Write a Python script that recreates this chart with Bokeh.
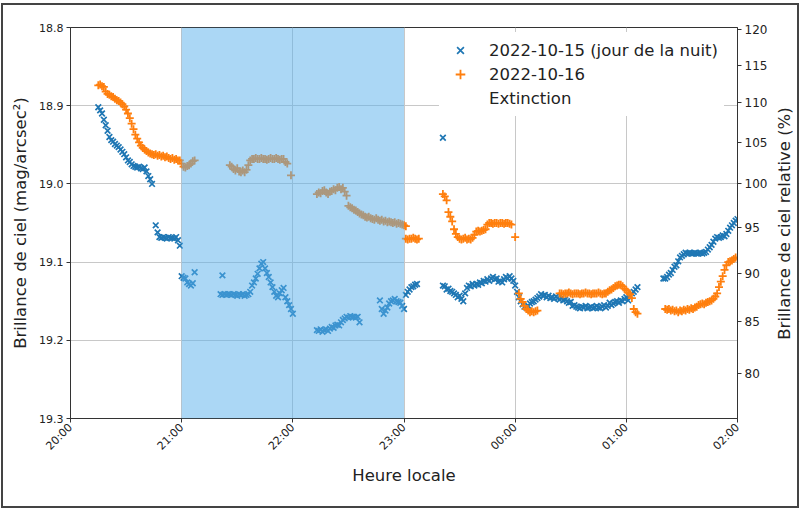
import math
from bokeh.plotting import figure
from bokeh.models import (Range1d, LinearAxis, FixedTicker, CustomJSTickFormatter,
                          BoxAnnotation, Legend, LegendItem, ColumnDataSource, Label)
from bokeh.embed import file_html
from bokeh.resources import INLINE

# ---------------- data (time = minutes after 20:00 local) ----------------
# 2022-10-15 (jour de la nuit)  -- sky brightness, mag/arcsec^2
b1_t = [15,16,17,18,19,20,21,22,23,24,25,26,27,28,29,30,31,32,33,34,35,36,37,38,39,40,41,42,43,44]
b1_m = [18.902,18.906,18.910,18.918,18.925,18.932,18.940,18.944,18.946,18.949,18.951,18.953,18.956,18.959,18.962,
        18.966,18.970,18.972,18.975,18.977,18.978,18.979,18.978,18.980,18.981,18.979,18.984,18.990,18.994,19.000]
b2_t = [46,47,48,49,50,51,52,53,54,55,56,57,58,59]
b2_m = [19.053,19.062,19.068,19.069,19.068,19.069,19.070,19.068,19.069,19.069,19.070,19.068,19.072,19.079]
b3_t = [60,61,62,63,64,65,66,67]
b3_m = [19.118,19.120,19.121,19.126,19.128,19.130,19.127,19.113]
b4_t = [81,82,83,84,85,86,87,88,89,90,91,92,93,94,95,96,97,98,99,100,101,102,103,104,105,106,107,108,109,110,
        111,112,113,114,115,116,117,118,119,120,82]
b4_m = [19.141,19.142,19.141,19.142,19.141,19.141,19.142,19.141,19.142,19.143,19.141,19.142,19.141,19.143,19.142,
        19.141,19.138,19.130,19.126,19.121,19.115,19.108,19.102,19.100,19.108,19.114,19.119,19.126,19.132,19.138,
        19.143,19.145,19.140,19.136,19.133,19.145,19.150,19.155,19.160,19.166,19.117]
b5_t = [133,134,135,136,137,138,139,140,141,142,143,144,145,146,147,148,149,150,151,152,153,154,155,156]
b5_m = [19.187,19.188,19.186,19.189,19.187,19.186,19.188,19.185,19.183,19.184,19.181,19.180,19.181,19.177,19.174,
        19.172,19.170,19.171,19.169,19.170,19.170,19.171,19.170,19.177]
b6_t = [167,168,169,170,171,172,173,174,175,176,177,178,179,180,181,182,183,184,185,186,187,201]
b6_m = [19.149,19.160,19.166,19.162,19.158,19.153,19.150,19.149,19.147,19.150,19.151,19.152,19.156,19.160,19.142,
        19.138,19.135,19.132,19.131,19.129,19.128,18.941]
b7_t = [201,202,203,204,205,206,207,208,209,210,211,212,213,214,215,216,217,218,219,220,
        221,222,223,224,225,226,227,228,229,230,231,232,233,234,235,236,237,238,239,240,
        241,242,243,244,245,246,247,248,249,250,251,252,253,254,255,256,257,258,259,260,
        261,262,263,264,265,266,267,268,269,270,271,272,273,274,275,276,277,278,279,280,
        281,282,283,284,285,286,287,288,289,290,291,292,293,294,295,296,297,298,299,300,
        301,302,303,304,305,306]
b7_m = [19.130,19.131,19.135,19.134,19.137,19.138,19.140,19.142,19.145,19.143,19.147,19.150,19.140,19.133,19.130,
        19.131,19.128,19.130,19.128,19.129,
        19.126,19.127,19.124,19.125,19.122,19.124,19.121,19.119,19.122,19.121,19.125,19.124,19.126,19.122,19.119,
        19.121,19.118,19.121,19.124,19.130,
        19.138,19.145,19.150,19.154,19.157,19.158,19.156,19.153,19.151,19.150,19.148,19.146,19.144,19.141,19.143,
        19.142,19.145,19.143,19.146,19.145,
        19.147,19.144,19.146,19.148,19.146,19.149,19.148,19.150,19.152,19.151,19.156,19.155,19.157,19.158,19.159,
        19.157,19.158,19.156,19.159,19.158,
        19.157,19.159,19.158,19.156,19.158,19.159,19.157,19.155,19.158,19.156,19.152,19.155,19.153,19.151,19.150,
        19.152,19.149,19.150,19.147,19.145,
        19.149,19.143,19.140,19.138,19.135,19.132]
b8_t = [320,321,322,323,324,325,326,327,328,329,330,331,332,333,334,335,336,337,338,339,340,
        341,342,343,344,345,346,347,348,349,350,351,352,353,354,355,356,357,358,359,360]
b8_m = [19.121,19.121,19.119,19.116,19.114,19.110,19.106,19.104,19.099,19.094,19.092,19.090,19.088,19.089,19.088,
        19.089,19.089,19.088,19.089,19.089,19.088,
        19.089,19.088,19.087,19.084,19.081,19.078,19.074,19.070,19.068,19.069,19.068,19.066,19.067,19.064,19.060,
        19.056,19.053,19.050,19.047,19.045]

# 2022-10-16
o1_t = [15,16,17,18,19,20,21,22,23,24,25,26,27,28,29,30,31,32,33,34,35,36,37,38,39,40,41,42,43,44,
        45,46,47,48,49,50,51,52,53,54,55,56,57,58,59,60,61,62,63,64,65,66,67]
o1_m = [18.874,18.873,18.875,18.876,18.882,18.885,18.886,18.888,18.889,18.891,18.893,18.894,18.896,18.898,18.901,
        18.905,18.910,18.916,18.923,18.930,18.937,18.942,18.947,18.951,18.954,18.956,18.958,18.960,18.961,18.962,
        18.963,18.962,18.964,18.963,18.965,18.964,18.966,18.965,18.967,18.968,18.967,18.969,18.968,18.970,18.970,
        18.974,18.978,18.979,18.977,18.976,18.974,18.971,18.970]
o2_t = [86,87,88,89,90,91,92,93,94,95,96,97,98,99,100,101,102,103,104,105,106,107,108,109,110,111,112,113,114,115,
        116,117,119]
o2_m = [18.976,18.978,18.981,18.983,18.980,18.984,18.985,18.983,18.985,18.982,18.976,18.970,18.968,18.968,18.967,
        18.968,18.968,18.967,18.968,18.968,18.969,18.968,18.967,18.968,18.968,18.967,18.968,18.969,18.968,18.968,
        18.972,18.974,18.989]
o3_t = [133,134,135,136,137,138,139,140,141,142,143,144,145,146,147,148,149,150,151,152,153,154,155,156,157,158,
        159,160,161,162,163,164,165,166,167,168,169,170,171,172,173,174,175,176,177,178,179,180,181]
o3_m = [19.013,19.011,19.012,19.009,19.008,19.011,19.013,19.010,19.009,19.007,19.008,19.005,19.004,19.007,19.005,
        19.010,19.015,19.028,19.030,19.031,19.033,19.034,19.036,19.038,19.039,19.040,19.042,19.043,19.042,19.044,
        19.045,19.046,19.044,19.046,19.047,19.046,19.048,19.047,19.049,19.048,19.049,19.050,19.049,19.051,19.050,
        19.051,19.052,19.053,19.054]
o4_t = [181,182,183,184,185,186,187,188]
o4_m = [19.070,19.071,19.070,19.070,19.069,19.070,19.071,19.070]
o5_t = [201,202,203,204,205,206,207,208,209,210,211,212,213,214,215,216,217,218,219,220,
        221,222,223,224,225,226,227,228,229,230,231,232,233,234,235,236,237,238,240,
        242,243,244,245,246,247,248,249,250,251,252]
o5_m = [19.013,19.016,19.021,19.036,19.042,19.048,19.058,19.064,19.068,19.070,19.071,19.070,19.069,19.071,19.070,
        19.071,19.069,19.065,19.061,19.060,
        19.061,19.060,19.059,19.058,19.052,19.050,19.050,19.051,19.050,19.050,19.051,19.050,19.050,19.051,19.050,
        19.050,19.051,19.052,19.068,
        19.140,19.147,19.151,19.156,19.160,19.162,19.164,19.163,19.164,19.163,19.162]
o6_t = [264,265,266,267,268,269,270,271,272,273,274,275,276,277,278,279,280,281,282,283,284,285,286,287,288,289,
        290,291,292,293,294,295,296,297,298,299,300,301,302,303,304,305,306]
o6_m = [19.140,19.140,19.141,19.140,19.140,19.139,19.140,19.141,19.140,19.140,19.140,19.141,19.140,19.140,19.139,
        19.140,19.140,19.141,19.140,19.140,19.140,19.139,19.140,19.141,19.140,19.140,
        19.138,19.136,19.135,19.133,19.131,19.130,19.129,19.129,19.131,19.134,19.136,19.139,19.141,19.146,19.160,
        19.164,19.166]
o7_t = [321,322,323,324,325,326,327,328,329,330,331,332,333,334,335,336,337,338,339,340,
        341,342,343,344,345,346,347,348,349,350,351,352,353,354,355,356,357,358,359]
o7_m = [19.160,19.161,19.160,19.162,19.161,19.163,19.162,19.164,19.162,19.163,19.161,19.162,19.160,19.161,19.159,
        19.160,19.158,19.157,19.155,19.154,
        19.153,19.154,19.152,19.151,19.150,19.149,19.147,19.144,19.140,19.132,19.125,19.118,19.110,19.104,19.100,
        19.099,19.098,19.096,19.094]

label_b = "2022-10-15 (jour de la nuit)"
label_o = "2022-10-16"
label_ext = "Extinction"
extinction_start, extinction_end = 21, 23          # hours
hour_ticks = [20, 21, 22, 23, 24, 25, 26]
mag_ticks = [18.8, 18.9, 19.0, 19.1, 19.2, 19.3]
pct_ticks = [80, 85, 90, 95, 100, 105, 110, 115, 120]
ref_mag = 19.0
x_lo, x_hi = 20, 26
y_lo, y_hi = 19.3, 18.8

def to_hours(mins):
    return [20 + m / 60.0 for m in mins]

b_t = b1_t + b2_t + b3_t + b4_t + b5_t + b6_t + b7_t + b8_t
b_m = b1_m + b2_m + b3_m + b4_m + b5_m + b6_m + b7_m + b8_m
o_t = o1_t + o2_t + o3_t + o4_t + o5_t + o6_t + o7_t
o_m = o1_m + o2_m + o3_m + o4_m + o5_m + o6_m + o7_m

src_b = ColumnDataSource(dict(x=to_hours(b_t), y=b_m))
src_o = ColumnDataSource(dict(x=to_hours(o_t), y=o_m))

FONT = "DejaVu Sans"
TXT = "#222222"

p = figure(width=798, height=505, output_backend="svg", toolbar_location=None,
           x_range=Range1d(x_lo, x_hi), y_range=Range1d(y_lo, y_hi),
           min_border_left=67, min_border_right=64, min_border_top=22, min_border_bottom=92)
p.background_fill_color = "white"
p.border_fill_color = "white"
p.outline_line_color = "#333333"
p.outline_line_width = 1
p.styles = {"border": "2px solid #444444", "margin-left": "1px", "margin-top": "3px"}

# grid
p.xgrid.ticker = FixedTicker(ticks=hour_ticks)
p.ygrid.ticker = FixedTicker(ticks=mag_ticks)
for g in (p.xgrid, p.ygrid):
    g.grid_line_color = "#c8c8c8"
    g.grid_line_width = 1

# axes
xa = p.xaxis[0]
xa.ticker = FixedTicker(ticks=hour_ticks)
xa.formatter = CustomJSTickFormatter(code="""
const h = Math.round(tick) % 24;
return (h < 10 ? '0' : '') + h + ':00';""")
xa.major_label_orientation = math.pi / 4
xa.axis_label = "Heure locale"

ya = p.yaxis[0]
ya.ticker = FixedTicker(ticks=mag_ticks)
ya.formatter = CustomJSTickFormatter(code="return tick.toFixed(1);")
ya.axis_label = "Brillance de ciel (mag/arcsec²)"

ra = LinearAxis(
    ticker=FixedTicker(ticks=[ref_mag - 2.5 * math.log10(pc / 100.0) for pc in pct_ticks]),
    formatter=CustomJSTickFormatter(code="return Math.round(100*Math.pow(10, -0.4*(tick-%s))).toString();" % ref_mag))
p.add_layout(ra, "right")

for ax in (xa, ya, ra):
    ax.axis_line_color = "#333333"
    ax.major_tick_line_color = "#333333"
    ax.major_tick_out = 4
    ax.major_tick_in = 0
    ax.minor_tick_line_color = None
    ax.major_label_text_font = FONT
    ax.major_label_text_font_size = "11px"
    ax.major_label_text_color = TXT
    ax.major_label_standoff = 3
    ax.axis_label_text_font = FONT
    ax.axis_label_text_font_size = "16.5px"
    ax.axis_label_text_font_style = "normal"
    ax.axis_label_text_color = TXT
    ax.axis_label_standoff = 6
ra.major_label_text_font_size = "12px"

# right-axis title in its own side panel, reading bottom to top like the left one
p.add_layout(Label(x=14, y=195, x_units="screen", y_units="screen", angle=math.pi / 2,
                   text="Brillance de ciel relative (%)", text_font=FONT, text_font_size="16.5px",
                   text_color=TXT, text_align="center", text_baseline="middle"), "right")

# data
rb = p.scatter("x", "y", source=src_b, marker="x", size=8, line_width=1.7, color="#1f77b4")
ro = p.scatter("x", "y", source=src_o, marker="cross", size=8, line_width=1.8, color="#ff7f0e")
rext = p.scatter(x=[], y=[], marker="square", size=8, fill_alpha=0, line_alpha=0)

# extinction period (drawn over the points)
p.add_layout(BoxAnnotation(left=extinction_start, right=extinction_end,
                           fill_color="#58b0eb", fill_alpha=0.5, line_alpha=0))

legend = Legend(items=[LegendItem(label=label_b, renderers=[rb]),
                       LegendItem(label=label_o, renderers=[ro]),
                       LegendItem(label=label_ext, renderers=[rext])],
                location=(369, 302))
legend.label_text_font = FONT
legend.label_text_font_size = "16.5px"
legend.label_text_color = TXT
legend.label_height = 24
legend.glyph_height = 24
legend.glyph_width = 30
legend.label_standoff = 14
legend.spacing = 0
legend.padding = 6
legend.margin = 0
legend.border_line_alpha = 0
legend.background_fill_color = "white"
legend.background_fill_alpha = 1
p.add_layout(legend, "center")

open("out.html", "w").write(file_html(p, INLINE))
